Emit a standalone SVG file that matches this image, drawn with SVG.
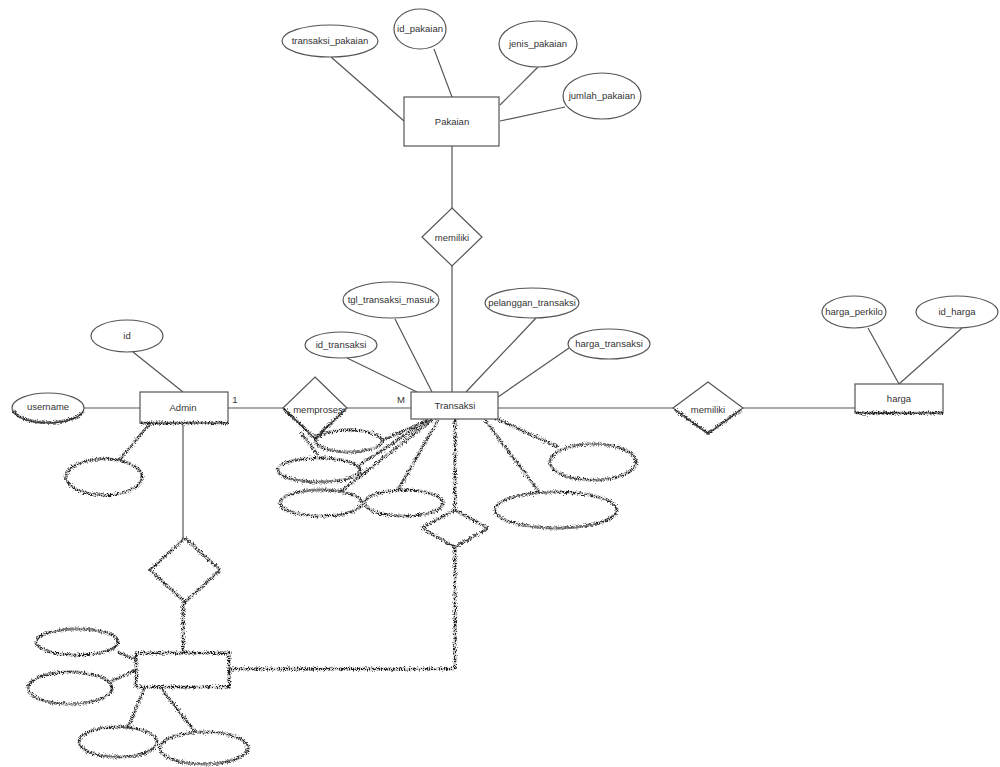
<svg xmlns="http://www.w3.org/2000/svg" width="1000" height="767" viewBox="0 0 1000 767">
<style>
.s{fill:#fff;stroke:#555;stroke-width:1.2}
.l{stroke:#555;stroke-width:1.2;fill:none}
.t{font-family:"Liberation Sans",Arial,sans-serif;font-size:9.5px;fill:#333;text-anchor:middle;dominant-baseline:middle}
.n{fill:none;stroke:#222;stroke-width:3;stroke-dasharray:1.2 0.8;filter:url(#rough)}
.nf{fill:#fff;stroke:#222;stroke-width:3;stroke-dasharray:1.2 0.8;filter:url(#rough)}
</style>
<defs>
<filter id="rough" filterUnits="userSpaceOnUse" x="0" y="0" width="1000" height="767">
<feTurbulence type="fractalNoise" baseFrequency="0.9" numOctaves="2" seed="3" result="tb"/>
<feDisplacementMap in="SourceGraphic" in2="tb" scale="5" xChannelSelector="R" yChannelSelector="G"/>
</filter>
</defs>
<rect width="1000" height="767" fill="#fff"/>
<g id="connectors">
<line class="l" x1="331" y1="57" x2="404" y2="121"/>
<line class="l" x1="434" y1="49" x2="452" y2="97"/>
<line class="l" x1="538" y1="67" x2="500" y2="105"/>
<line class="l" x1="565" y1="107" x2="500" y2="121"/>
<line class="l" x1="452" y1="146" x2="452" y2="208"/>
<line class="l" x1="452" y1="266" x2="452" y2="392"/>
<line class="l" x1="347" y1="358" x2="417" y2="392"/>
<line class="l" x1="395" y1="319" x2="432" y2="392"/>
<line class="l" x1="536" y1="318" x2="466" y2="392"/>
<line class="l" x1="569" y1="348" x2="498" y2="397"/>
<line class="l" x1="133" y1="352" x2="183" y2="392"/>
<line class="l" x1="84" y1="408" x2="140" y2="408"/>
<line class="l" x1="228" y1="408" x2="283" y2="408"/>
<line class="l" x1="347" y1="408" x2="411" y2="408"/>
<line class="l" x1="498" y1="408" x2="673" y2="408"/>
<line class="l" x1="743" y1="408" x2="855" y2="408"/>
<line class="l" x1="868" y1="328" x2="899" y2="384"/>
<line class="l" x1="962" y1="328" x2="899" y2="384"/>
<line class="l" x1="183" y1="425" x2="183" y2="540"/>
<text class="t" x="235" y="400">1</text>
<text class="t" x="401" y="400">M</text>
<g id="noisy-connectors">
<line class="n" x1="150" y1="424" x2="118" y2="461"/>
<line class="n" x1="183" y1="602" x2="183" y2="653"/>
<line class="n" x1="229" y1="669" x2="455" y2="669"/>
<line class="n" x1="455" y1="669" x2="455" y2="547"/>
<line class="n" x1="455" y1="510" x2="455" y2="419"/>
<line class="n" x1="428" y1="420" x2="383" y2="440"/>
<line class="n" x1="428" y1="420" x2="358" y2="466"/>
<line class="n" x1="432" y1="420" x2="340" y2="492"/>
<line class="n" x1="438" y1="420" x2="398" y2="490"/>
<line class="n" x1="495" y1="418" x2="558" y2="447"/>
<line class="n" x1="485" y1="420" x2="540" y2="493"/>
<line class="n" x1="300" y1="432" x2="318" y2="455"/>
<line class="n" x1="118" y1="652" x2="136" y2="660"/>
<line class="n" x1="110" y1="682" x2="136" y2="670"/>
<line class="n" x1="128" y1="727" x2="145" y2="687"/>
<line class="n" x1="196" y1="733" x2="160" y2="687"/>
</g>
</g>
<g id="pakaian"><rect class="s" x="404" y="97" width="95" height="49"/><text class="t" x="452" y="122">Pakaian</text></g>
<g id="transaksi_pakaian"><ellipse class="s" cx="330" cy="41" rx="48" ry="16"/><text class="t" x="330" y="41">transaksi_pakaian</text></g>
<g id="id_pakaian"><ellipse class="s" cx="420" cy="29" rx="26" ry="20"/><text class="t" x="420" y="29">id_pakaian</text></g>
<g id="jenis_pakaian"><ellipse class="s" cx="538" cy="44" rx="39" ry="23"/><text class="t" x="538" y="44">jenis_pakaian</text></g>
<g id="jumlah_pakaian"><ellipse class="s" cx="602" cy="96" rx="39" ry="23"/><text class="t" x="602" y="96">jumlah_pakaian</text></g>
<g id="memiliki1"><polygon class="s" points="452,208 482,237 452,266 422,237"/><text class="t" x="452" y="238">memiliki</text></g>
<g id="transaksi"><rect class="s" x="411" y="392" width="87" height="27"/><text class="t" x="455" y="406">Transaksi</text></g>
<g id="id_transaksi"><ellipse class="s" cx="341" cy="345" rx="36" ry="13"/><text class="t" x="341" y="345">id_transaksi</text></g>
<g id="tgl_transaksi_masuk"><ellipse class="s" cx="391" cy="300" rx="48" ry="18"/><text class="t" x="391" y="300">tgl_transaksi_masuk</text></g>
<g id="pelanggan_transaksi"><ellipse class="s" cx="532" cy="303" rx="47" ry="15"/><text class="t" x="532" y="303">pelanggan_transaksi</text></g>
<g id="harga_transaksi"><ellipse class="s" cx="609" cy="344" rx="41" ry="15"/><text class="t" x="609" y="344">harga_transaksi</text></g>
<g id="admin"><rect class="s" x="140" y="392" width="88" height="31"/><line class="n" x1="141" y1="423" x2="228" y2="423"/><text class="t" x="183" y="408">Admin</text></g>
<g id="id"><ellipse class="s" cx="127" cy="336" rx="36" ry="16"/><text class="t" x="127" y="336">id</text></g>
<g id="username"><ellipse class="s" cx="48" cy="408" rx="36" ry="15"/><path class="n" d="M13,410 A36,15 0 0 0 84,410"/><text class="t" x="48" y="407">username</text></g>
<g id="memproses"><polygon class="s" points="315,377 347,408 315,439 283,408"/><path class="n" d="M284,409 L315,438 L346,409"/><text class="t" x="318" y="410">memproses</text></g>
<g id="memiliki2"><polygon class="s" points="708,382 743,408 708,434 673,408"/><path class="n" d="M675,410 L708,433 L741,410"/><text class="t" x="708" y="410">memiliki</text></g>
<g id="harga"><rect class="s" x="855" y="384" width="88" height="29"/><line class="n" x1="856" y1="413" x2="943" y2="413"/><text class="t" x="899" y="399">harga</text></g>
<g id="harga_perkilo"><ellipse class="s" cx="854" cy="312" rx="32" ry="16"/><text class="t" x="854" y="312">harga_perkilo</text></g>
<g id="id_harga"><ellipse class="s" cx="957" cy="312" rx="41" ry="16"/><text class="t" x="957" y="312">id_harga</text></g>
<g id="noisy-nodes">
<g id="attr-admin-2"><ellipse class="nf" cx="104" cy="477" rx="38" ry="18"/></g>
<g id="attr-t-a"><ellipse class="nf" cx="349" cy="441" rx="33" ry="11"/></g>
<g id="attr-t-b"><ellipse class="nf" cx="319" cy="470" rx="41" ry="12"/></g>
<g id="attr-t-c"><ellipse class="nf" cx="321" cy="503" rx="41" ry="13"/></g>
<g id="attr-t-d"><ellipse class="nf" cx="404" cy="503" rx="39" ry="13"/></g>
<g id="attr-t-e"><ellipse class="nf" cx="593" cy="462" rx="43" ry="18"/></g>
<g id="attr-t-f"><ellipse class="nf" cx="556" cy="510" rx="61" ry="18"/></g>
<g id="rel-t"><polygon class="nf" points="455,510 488,528 455,547 422,528"/></g>
<g id="rel-admin"><polygon class="nf" points="185,538 220,570 185,602 150,570"/></g>
<g id="entity-bottom"><rect class="nf" x="136" y="653" width="93" height="34"/></g>
<g id="attr-b-1"><ellipse class="nf" cx="77" cy="642" rx="41" ry="13"/></g>
<g id="attr-b-2"><ellipse class="nf" cx="70" cy="688" rx="42" ry="16"/></g>
<g id="attr-b-3"><ellipse class="nf" cx="118" cy="742" rx="39" ry="15"/></g>
<g id="attr-b-4"><ellipse class="nf" cx="204" cy="748" rx="44" ry="16"/></g>
</g>
</svg>
